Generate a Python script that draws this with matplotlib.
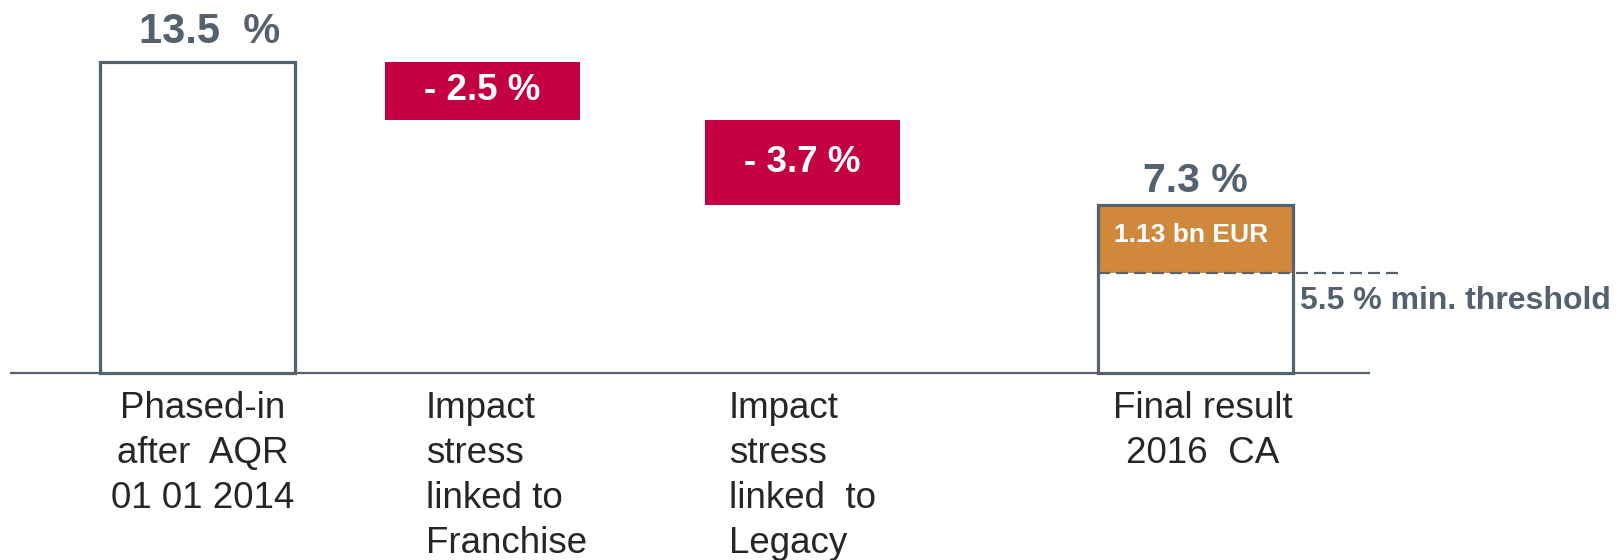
import matplotlib
matplotlib.use("Agg")
import matplotlib.pyplot as plt

# ---- data ----
categories = ["Phased-in\nafter  AQR\n01 01 2014",
              "Impact\nstress\nlinked to\nFranchise",
              "Impact\nstress\nlinked  to\nLegacy",
              "Final result\n2016  CA"]
start_value = 13.5
deltas = [-2.5, -3.7]
final_value = 7.3
top_labels = ["13.5  %", "- 2.5 %", "- 3.7 %", "7.3 %"]
buffer_label = "1.13 bn EUR"
threshold_label = "5.5 % min. threshold"
threshold_drawn = 4.35   # position where the (not-to-scale) threshold line is drawn

# ---- styles ----
GRAY = "#53626e"
TEXT = "#262626"
RED = "#c40044"
ORANGE = "#d0883d"
FONT = "Liberation Sans"

W, H = 1621, 560
fig = plt.figure(figsize=(W / 100, H / 100), dpi=100)
ax = fig.add_axes([0, 0, 1, 1])
px_per_unit = 23.04
base_px = 373
ax.set_xlim(0, W)
ax.set_ylim(-(H - base_px) / px_per_unit, base_px / px_per_unit)
ax.axis("off")

centers = [197.5, 482.5, 802, 1195]
width = 195

# baseline
ax.plot([10, 1370], [0, 0], color=GRAY, lw=1.6, zorder=1, solid_capstyle="butt")

# first bar
ax.bar(centers[0], start_value, width=width, bottom=0, facecolor="white",
       edgecolor=GRAY, linewidth=2.3, zorder=2)
ax.annotate(top_labels[0], (centers[0] + 12, start_value), xytext=(0, 19),
            textcoords="offset pixels", ha="center", va="baseline",
            fontsize=30, fontweight="bold", color=GRAY, family=FONT)

# floating deltas
level = start_value
for i, d in enumerate(deltas):
    c = centers[i + 1]
    ax.bar(c, -d, width=width, bottom=level + d, facecolor=RED, edgecolor="none", zorder=2)
    ax.text(c, level + d / 2, top_labels[i + 1], ha="center", va="center",
            fontsize=26.5, fontweight="bold", color="white", family=FONT, zorder=3)
    level += d

# final bar: lower white part + orange buffer
c = centers[3]
ax.bar(c, threshold_drawn, width=width, bottom=0, facecolor="white",
       edgecolor="none", zorder=2)
ax.bar(c, final_value - threshold_drawn, width=width, bottom=threshold_drawn,
       facecolor=ORANGE, edgecolor="none", zorder=2)
ax.bar(c, final_value, width=width, bottom=0, facecolor="none",
       edgecolor=GRAY, linewidth=2.3, zorder=4)
ax.annotate(top_labels[3], (c, final_value), xytext=(0, 13),
            textcoords="offset pixels", ha="center", va="baseline",
            fontsize=29.5, fontweight="bold", color=GRAY, family=FONT)
ax.text(c - 4, (final_value + threshold_drawn) / 2 + 0.18, buffer_label, ha="center",
        va="center", fontsize=19, fontweight="bold", color="white", family=FONT, zorder=5)

# threshold dashed line and label
ax.plot([c - width / 2, 1399], [threshold_drawn, threshold_drawn], color=GRAY,
        lw=1.6, ls=(0, (5.4, 2.7)), zorder=5)
ax.annotate(threshold_label, (1300, threshold_drawn), xytext=(0, -28),
            textcoords="offset pixels", ha="left", va="center",
            fontsize=23, fontweight="bold", color=GRAY, family=FONT)

# category labels
label_x = [203, 426, 729, 1203]
label_ha = ["center", "left", "left", "center"]
for x, txt, ha in zip(label_x, categories, label_ha):
    ax.annotate(txt, (x, 0), xytext=(0, -18), textcoords="offset pixels",
                ha=ha, va="top", fontsize=26.5, color=TEXT, family=FONT,
                linespacing=1.37, multialignment=ha)

fig.savefig("out.png", dpi=100)
